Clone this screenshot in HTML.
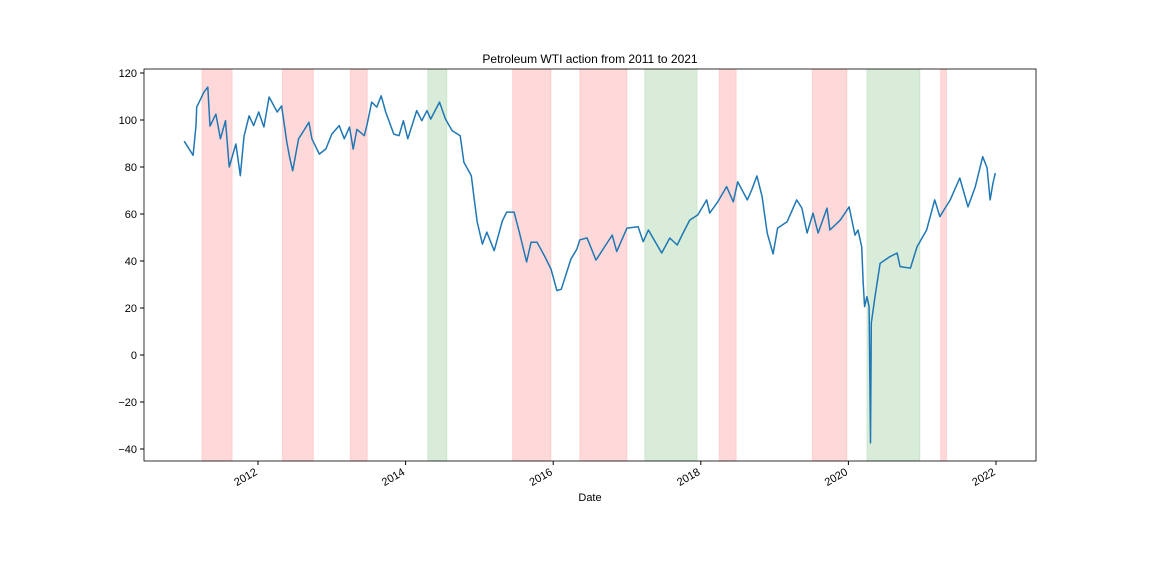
<!DOCTYPE html>
<html><head><meta charset="utf-8"><style>
body{margin:0;background:#fff}
svg text{font-family:"Liberation Sans",sans-serif;font-size:11px;fill:#000}
</style></head><body>
<svg width="1152" height="576" xmlns="http://www.w3.org/2000/svg">
<rect width="1152" height="576" fill="#fff"/>
<g id="spans"></g>
<g id="grid"></g>
<path id="line" fill="none" stroke="#1f77b4" stroke-width="1.5" stroke-linejoin="round"/>
<rect x="144" y="69" width="892" height="392" fill="none" stroke="#000" stroke-width="0.8"/>
<text x="590" y="63" text-anchor="middle" style="font-size:12px">Petroleum WTI action from 2011 to 2021</text>
<text x="590" y="501" text-anchor="middle">Date</text>
</svg>
<script>
const dates=[2011.00,2011.12,2011.16,2011.17,2011.27,2011.32,2011.35,2011.43,2011.49,2011.56,2011.61,2011.70,2011.76,2011.81,2011.88,2011.94,2012.01,2012.08,2012.15,2012.26,2012.32,2012.39,2012.43,2012.47,2012.55,2012.62,2012.69,2012.73,2012.83,2012.92,2013.00,2013.10,2013.17,2013.24,2013.29,2013.34,2013.44,2013.48,2013.54,2013.61,2013.67,2013.73,2013.84,2013.91,2013.97,2014.03,2014.15,2014.22,2014.29,2014.34,2014.46,2014.54,2014.63,2014.74,2014.79,2014.89,2014.93,2014.97,2015.04,2015.10,2015.20,2015.31,2015.37,2015.47,2015.54,2015.64,2015.70,2015.78,2015.88,2015.97,2016.05,2016.11,2016.24,2016.32,2016.36,2016.46,2016.58,2016.80,2016.86,2017.00,2017.15,2017.22,2017.29,2017.47,2017.58,2017.68,2017.76,2017.85,2017.96,2018.08,2018.12,2018.23,2018.35,2018.44,2018.50,2018.63,2018.69,2018.76,2018.83,2018.90,2018.98,2019.04,2019.17,2019.30,2019.37,2019.44,2019.52,2019.59,2019.71,2019.75,2019.89,2020.01,2020.09,2020.13,2020.18,2020.20,2020.22,2020.25,2020.28,2020.30,2020.31,2020.36,2020.43,2020.56,2020.66,2020.70,2020.84,2020.93,2021.06,2021.17,2021.24,2021.38,2021.51,2021.62,2021.72,2021.82,2021.88,2021.92,2021.96,2021.99];
const prices=[91,85,97.6,105.5,112,114,97.4,102.5,92,99.7,80,89.8,76.3,93,101.8,97.6,103.4,97,109.8,103.4,106,90.6,84,78.4,92,95.5,99,92,85.5,87.7,94,97.6,92,97,87.6,96,93.3,98.3,107.6,105.5,110.3,103.4,94,93.3,99.7,92,104,99.7,104,100.4,107.6,100.4,95.5,93.3,82,76.3,66.4,56.6,47.2,52.3,44.4,57,60.8,60.8,52.3,39.6,48,48,42.3,36.6,27.4,28,40.8,45,49,49.8,40.4,51,44,54,54.6,48.2,53.2,43.4,49.8,46.8,51.9,57.4,59.6,66,60.4,65.2,71.6,65.2,73.7,66,70.2,76.2,67.4,51.9,43,54,56.7,66,62.5,51.9,60.4,51.9,62.5,53.2,57.4,63,51,53.2,46,30.6,20.6,24.8,20.6,-37.4,13.6,24.8,39,41.8,43.4,37.6,37,46,53.2,66,58.9,66,75.3,63,71.6,84.4,79.6,66,73.2,77.4];
const spanStarts=[2011.24,2012.33,2013.25,2014.30,2015.45,2016.36,2017.24,2018.25,2019.51,2020.25,2021.25];
const spanEnds=[2011.65,2012.75,2013.48,2014.56,2015.97,2017.00,2017.95,2018.48,2019.98,2020.97,2021.33];
const spanKinds=["red","red","red","green","red","red","green","red","red","green","red"];
const yTicks=[-40,-20,0,20,40,60,80,100,120];
const xTicks=[2012,2014,2016,2018,2020,2022];
const NS="http://www.w3.org/2000/svg";
const X=t=>258+(t-2012)*73.8;
const Y=v=>355-v*2.35;
const spans=document.getElementById('spans'),grid=document.getElementById('grid');
spanStarts.forEach((s,i)=>{
 const r=document.createElementNS(NS,'rect');
 
 
 r.setAttribute('x',X(s));r.setAttribute('y',69);r.setAttribute('width',X(spanEnds[i])-X(s));r.setAttribute('height',392);
 r.setAttribute('fill',spanKinds[i]=='red'?'rgba(255,0,0,0.15)':'rgba(0,128,0,0.15)');
 r.setAttribute('stroke',spanKinds[i]=='red'?'rgba(255,0,0,0.1)':'rgba(0,128,0,0.1)');
 spans.appendChild(r);
});
yTicks.forEach(v=>{
 const l=document.createElementNS(NS,'line');
 
 
 l.setAttribute('x1',140);l.setAttribute('x2',144);l.setAttribute('y1',Y(v));l.setAttribute('y2',Y(v));l.setAttribute('stroke','#000');
 grid.appendChild(l);
 const t=document.createElementNS(NS,'text');
 
 
 t.setAttribute('x',137);t.setAttribute('y',Y(v)+4);t.setAttribute('text-anchor','end');
 t.textContent=v<0?'\u2212'+(-v):v;grid.appendChild(t);
});
xTicks.forEach(v=>{
 const x=X(v);
 const l=document.createElementNS(NS,'line');
 
 
 l.setAttribute('x1',x);l.setAttribute('x2',x);l.setAttribute('y1',461);l.setAttribute('y2',465);l.setAttribute('stroke','#000');
 grid.appendChild(l);
 const t=document.createElementNS(NS,'text');
 
 
 t.setAttribute('transform','translate('+x+',474) rotate(-30)');t.setAttribute('text-anchor','end');
 t.textContent=v;grid.appendChild(t);
});
document.getElementById('line').setAttribute('d',dates.map((d,i)=>(i?'L':'M')+X(d).toFixed(1)+','+Y(prices[i]).toFixed(1)).join(''));
</script>
</body></html>
